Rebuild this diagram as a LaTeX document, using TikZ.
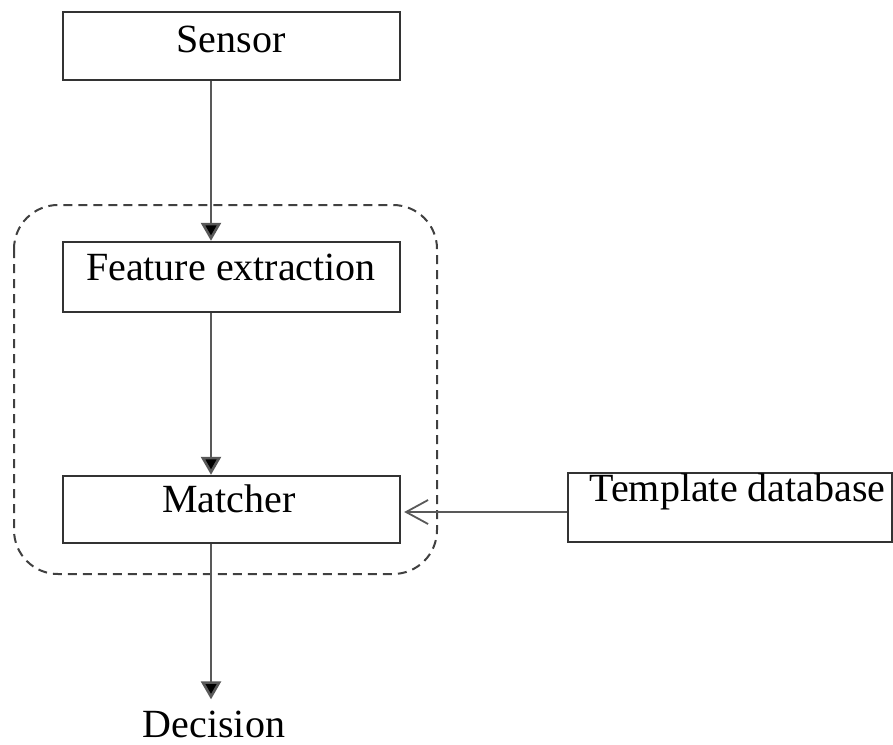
\documentclass[tikz,border=0pt]{standalone}
\usepackage{fontspec}
\setmainfont{Liberation Serif}
\usetikzlibrary{arrows.meta}
\begin{document}
\begin{tikzpicture}[x=1pt,y=-1pt,
  box/.style={draw=black!80, line width=2.4pt, rectangle, inner sep=0pt},
  lbl/.style={font=\fontsize{40}{44}\selectfont, inner sep=0pt, anchor=base},
  conn/.style={draw=black!65, line width=2.6pt, -{Triangle[length=18pt,width=20pt,fill=black]}},
  openconn/.style={draw=black!65, line width=2.4pt, -{Straight Barb[length=22pt,width=24pt,line width=1.8pt]}},
  grp/.style={draw=black!75, line width=2pt, dash pattern=on 9pt off 6pt, rounded corners=44pt}
]
\useasboundingbox (0,0) rectangle (893,744);
\fill[white] (0,0) rectangle (893,744);

% group (dashed)
\draw[grp] (14,205) rectangle (437,574);

% boxes
\node[box, minimum width=337pt, minimum height=68pt] (sensor) at (231.5,46) {};
\node[box, minimum width=337pt, minimum height=70pt] (feat) at (231.5,277) {};
\node[box, minimum width=337pt, minimum height=67pt] (match) at (231.5,509.5) {};
\node[box, minimum width=324pt, minimum height=69pt] (tmpl) at (730,507.5) {};

% labels
\node[lbl] (sensorT) at (231,52) {Sensor};
\node[lbl] (featT) at (231,280) {Feature extraction};
\node[lbl] (matchT) at (229,512) {Matcher};
\node[lbl] (tmplT) at (737.5,501) {Template database};
\node[font=\fontsize{40}{44}\selectfont, inner xsep=0pt, inner ysep=11pt, anchor=base] (dec) at (214,737) {Decision};

% helper coordinates
\coordinate (ax) at (211,0);
\coordinate (ay) at (0,512);

% connectors
\draw[conn] (sensor.south -| ax) -- (feat.north -| ax);
\draw[conn] (feat.south -| ax) -- (match.north -| ax);
\draw[conn] (match.south -| ax) -- (dec.north -| ax);
\draw[openconn] (tmpl.west |- ay) -- ([xshift=3pt]match.east |- ay);
\end{tikzpicture}
\end{document}
